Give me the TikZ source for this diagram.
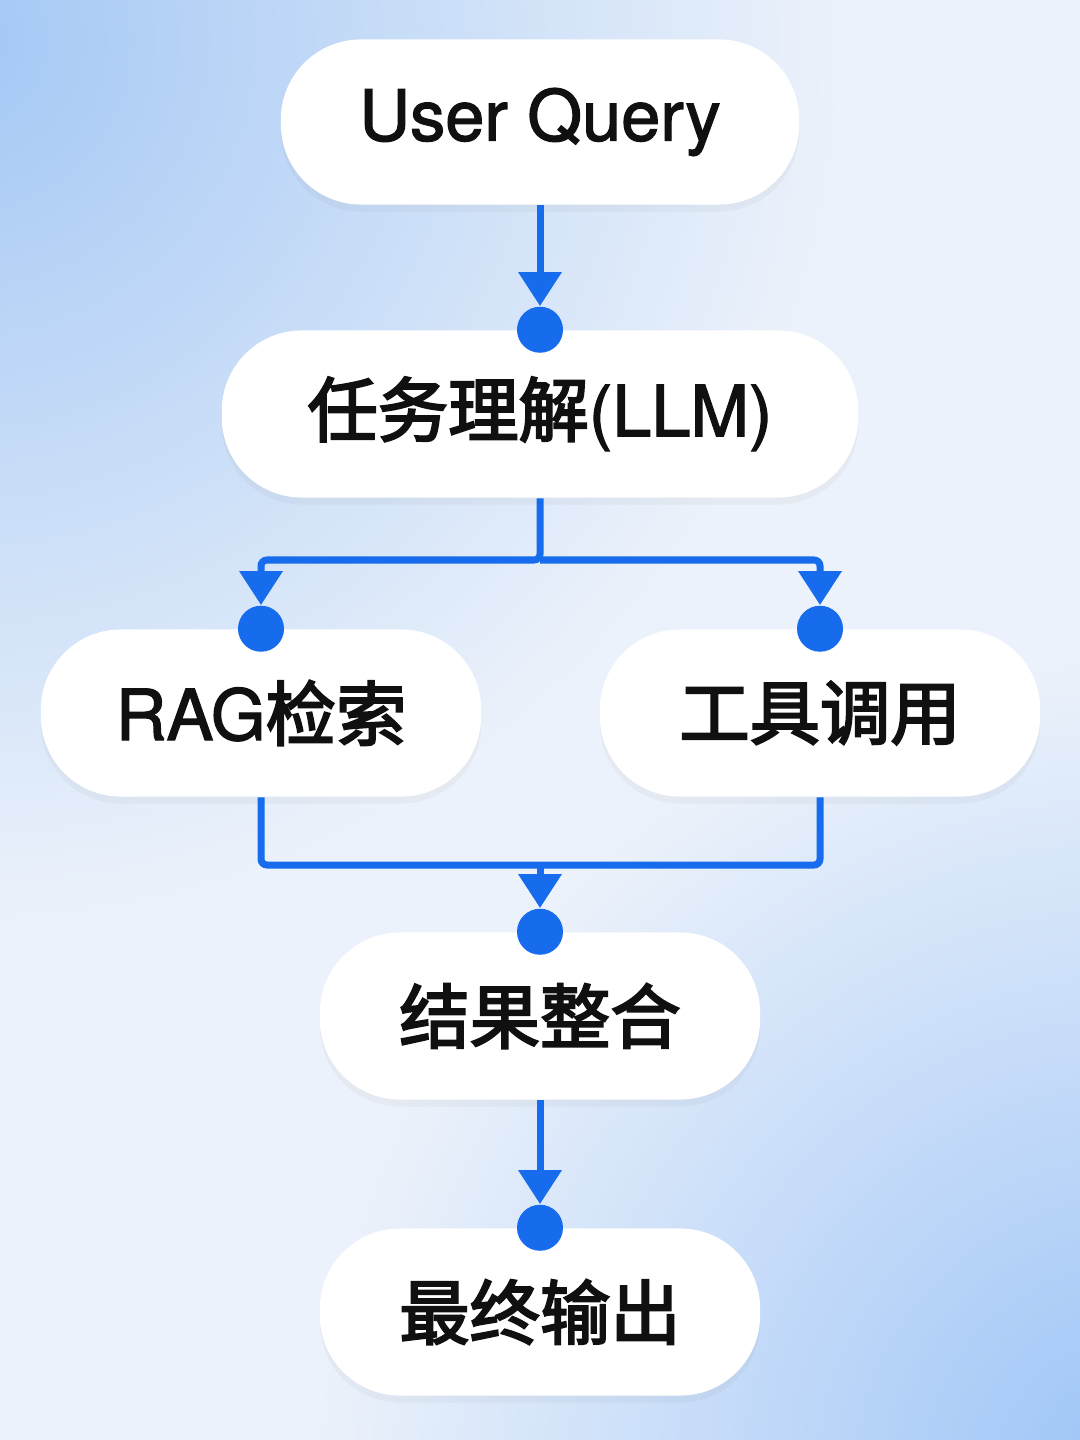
\documentclass[tikz,border=0pt]{standalone}
\usepackage{fontspec}
\setmainfont{TeX Gyre Heros}[FakeBold=1.8]
\newfontfamily\cjk{Noto Sans CJK SC}[FakeBold=3]
\usetikzlibrary{arrows.meta,shadows,fadings}

\definecolor{flowblue}{RGB}{22,108,236}
\definecolor{bgblue}{RGB}{164,200,245}
\definecolor{bgpale}{RGB}{236,242,251}
\definecolor{bgdeep}{RGB}{156,196,247}
\definecolor{inkdark}{RGB}{16,16,16}

\tikzfading[name=blobfade, inner color=transparent!0, outer color=transparent!100]

\begin{document}
\begin{tikzpicture}[
    x=0.01cm, y=-0.01cm,
    pill/.style={rectangle, fill=white, rounded corners=0.8cm, minimum width=4.4cm, minimum height=1.67cm, text=inkdark, font=\fontsize{20pt}{24pt}\selectfont, drop shadow={opacity=0.07, shadow xshift=0cm, shadow yshift=-0.07cm}},
    dot/.style={circle, fill=flowblue, minimum size=0.46cm, inner sep=0pt},
    flow/.style={-{Triangle[width=0.42cm, length=0.34cm]}, draw=flowblue, line width=0.07cm},
    link/.style={draw=flowblue, line width=0.07cm, rounded corners=0.06cm}
  ]

    % Background
    \useasboundingbox (0,0) rectangle (1080,1440);
    \fill[bgpale] (0,0) rectangle (1080,1440);
    \begin{scope}
      \clip (0,0) rectangle (1080,1440);
      \fill[bgblue, path fading=blobfade] (-40,40) circle (880);
      \fill[bgdeep, path fading=blobfade] (1140,1480) circle (820);
    \end{scope}

    % Steps
    \node[pill, minimum width=5.18cm, minimum height=1.65cm] (query) at (540,122) {User Query};
    \node[pill, minimum width=6.36cm] (llm) at (540,414) {{\cjk 任务理解}(LLM)};
    \node[pill] (rag) at (261,713) {RAG{\cjk 检索}};
    \node[pill] (tool) at (820,713) {\cjk 工具调用};
    \node[pill] (merge) at (540,1016) {\cjk 结果整合};
    \node[pill] (output) at (540,1312) {\cjk 最终输出};

    % Entry dots
    \node[dot] (llmdot) at (llm.north) {};
    \node[dot] (ragdot) at (rag.north) {};
    \node[dot] (tooldot) at (tool.north) {};
    \node[dot] (mergedot) at (merge.north) {};
    \node[dot] (outdot) at (output.north) {};

    % Branch and join points
    \coordinate (split) at (540,560);
    \coordinate (join) at (540,865);

    % Arrows
    \draw[flow] (query) -- (llmdot);
    \draw[flow, rounded corners=0.06cm] (llm) -- (split) -| (ragdot);
    \draw[flow, rounded corners=0.06cm] (split) -| (tooldot);
    \draw[link] (rag) |- (join) -| (tool);
    \draw[flow] (join) -- (mergedot);
    \draw[flow] (merge) -- (outdot);

  \end{tikzpicture}
\end{document}
